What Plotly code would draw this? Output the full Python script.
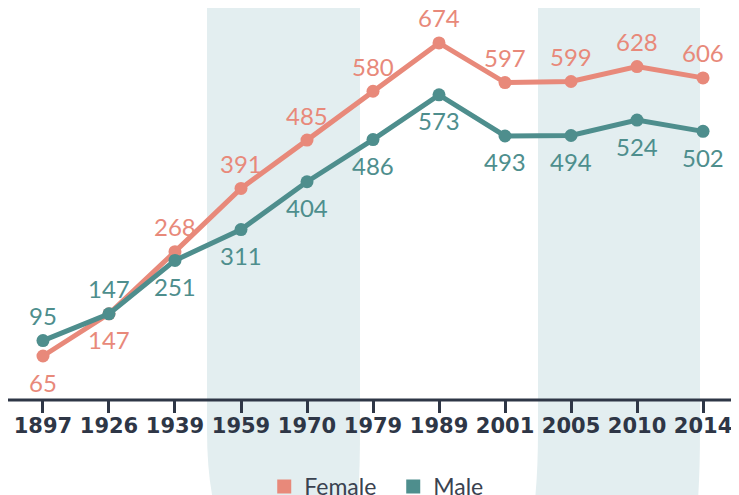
import plotly.graph_objects as go

years = ["1897", "1926", "1939", "1959", "1970", "1979", "1989", "2001", "2005", "2010", "2014"]
female = [65, 147, 268, 391, 485, 580, 674, 597, 599, 628, 606]
male = [95, 147, 251, 311, 404, 486, 573, 493, 494, 524, 502]
female_above = [False, False] + [True] * 9
male_above = [True, True] + [False] * 9

FEM = "#e8897a"
MAL = "#4e8e8d"
DARK = "#2e3646"
BAND = "#e3eef0"

W, H = 731, 487          # page body has an 8px offset
PLOT_BOTTOM = 392        # px from figure top


def px(x):
    return (x - 8) / W


def py(y):
    return (400 - y) / PLOT_BOTTOM


fig = go.Figure()
xs = list(range(len(years)))
for nm, vals, col in [("Female", female, FEM), ("Male", male, MAL)]:
    fig.add_trace(go.Scatter(
        x=xs, y=vals, name=nm, mode="lines+markers", showlegend=False,
        line=dict(color=col, width=5), marker=dict(size=13, color=col),
        cliponaxis=False))
# legend entries (square swatches)
for nm, col in [("Female", FEM), ("Male", MAL)]:
    fig.add_trace(go.Scatter(x=[None], y=[None], name=nm, mode="markers",
                             marker=dict(symbol="square", size=14, color=col)))

# value labels
for vals, above, col in [(female, female_above, FEM), (male, male_above, MAL)]:
    for i, (v, a) in enumerate(zip(vals, above)):
        fig.add_annotation(x=i, y=v, text=str(v), showarrow=False,
                           yshift=25 if a else -26, yanchor="middle",
                           font=dict(size=24, color=col, family="Lato"))

# background bands (slightly curved toward the bottom)
for (l, r, lb, rb) in [(207, 360, 213, 358), (538, 700, 535, 698)]:
    path = (f"M {px(l)},{py(0)} L {px(r)},{py(0)} L {px(r)},{py(430)} "
            f"Q {px(r)},{py(470)} {px(rb)},{py(500)} L {px(lb)},{py(500)} "
            f"Q {px(l)},{py(470)} {px(l)},{py(430)} Z")
    fig.add_shape(type="path", xref="paper", yref="paper", path=path,
                  fillcolor=BAND, line=dict(width=0), layer="below")

fig.update_layout(
    width=W, height=H,
    margin=dict(l=0, r=0, t=0, b=H - PLOT_BOTTOM, autoexpand=False),
    plot_bgcolor="rgba(0,0,0,0)", paper_bgcolor="white",
    showlegend=True,
    legend=dict(orientation="h", xref="paper", x=0.527, xanchor="center",
                yref="container", y=1 - 478.5 / H, yanchor="middle",
                font=dict(size=23, color="#3a4250", family="Lato"), itemwidth=30,
                entrywidth=84, entrywidthmode="pixels",
                bgcolor="rgba(0,0,0,0)"),
    xaxis=dict(range=[-0.53, 10.545], tickmode="array", tickvals=xs,
               ticktext=years, showgrid=False, zeroline=False, showline=False,
               ticks="outside", ticklen=12, tickwidth=3, tickcolor=DARK, automargin=False,
               ticklabelstandoff=-5,
               tickfont=dict(size=21, color=DARK, family="DejaVu Sans", weight="bold")),
    yaxis=dict(range=[-20.6, 742], visible=False, showgrid=False, zeroline=False),
)
fig.add_shape(type="line", xref="paper", yref="paper", x0=0, x1=1, y0=0, y1=0,
              line=dict(color=DARK, width=3), layer="above")

fig.write_html("out.html")
